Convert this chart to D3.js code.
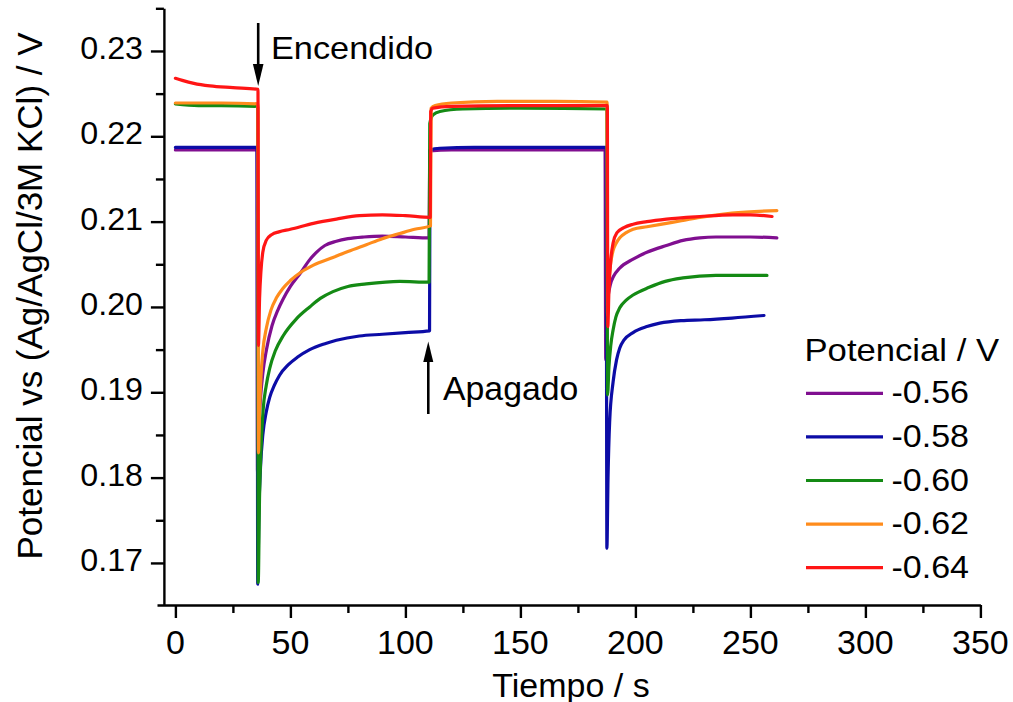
<!DOCTYPE html>
<html>
<head>
<meta charset="utf-8">
<script src="https://cdn.jsdelivr.net/npm/d3@7"></script>
<style>
  html, body { margin: 0; padding: 0; background: #ffffff; }
  svg { display: block; font-family: "Liberation Sans", Arial, sans-serif; }
</style>
</head>
<body>
<svg id="chart" width="1013" height="702"></svg>
<script>
// Open-circuit potential transients under light on/off, [time (s), potential (V)]
const seriesNames = ["-0.56", "-0.58", "-0.60", "-0.62", "-0.64"];
const seriesColors = ["#800f90", "#0c0ca6", "#148a14", "#ff8c1c", "#ff1515"];

const p056 = [
  [0, 0.2184], [35.5, 0.2184], [35.7, 0.1805], [36.3, 0.1860], [37, 0.1893], [38, 0.1922],
  [39.6, 0.1950], [42, 0.1978], [44.5, 0.1996], [46.8, 0.2009], [50, 0.2024], [54.7, 0.2041],
  [58, 0.2054], [61.3, 0.2064], [65, 0.2072], [70, 0.2077], [75, 0.2080], [82, 0.2082],
  [90, 0.2083], [100, 0.2082], [110.3, 0.2081], [110.6, 0.2183], [120, 0.2184], [186.8, 0.2184],
  [187.1, 0.1938], [187.7, 0.2000], [189, 0.2025], [190.5, 0.2036], [193, 0.2045], [199, 0.2056],
  [205, 0.2064], [213.5, 0.2072], [220.7, 0.2078], [228, 0.2081], [235, 0.2082], [250, 0.2082],
  [261.5, 0.2081]
];
const p058 = [
  [0, 0.2187], [35.5, 0.2187], [35.8, 0.1675], [36.3, 0.1760], [37, 0.1812], [38, 0.1850],
  [39.5, 0.1877], [41, 0.1894], [43, 0.1908], [45.3, 0.1920], [49, 0.1932], [53, 0.1941],
  [58.4, 0.1950], [65, 0.1957], [70, 0.1961], [80, 0.1966], [90, 0.1968], [100, 0.1970],
  [110.5, 0.1972], [110.7, 0.2184], [115, 0.2186], [130, 0.2187], [187.3, 0.2187],
  [187.6, 0.1717], [188.1, 0.1800], [188.8, 0.1865], [190.3, 0.1912], [191.8, 0.1938],
  [193.2, 0.1952], [195, 0.1961], [199, 0.1970], [205, 0.1977], [210.6, 0.1981],
  [220, 0.1984], [230, 0.1985], [242, 0.1987], [255.9, 0.1990]
];
const p060 = [
  [0, 0.2238], [10, 0.2236], [20, 0.2236], [35.8, 0.2235], [36.0, 0.1677], [36.6, 0.1780],
  [37.2, 0.1832], [38.1, 0.1878], [39.5, 0.1908], [41, 0.1928], [43.5, 0.1949], [46.8, 0.1966],
  [52.6, 0.1986], [58.4, 0.2000], [63, 0.2010], [68.5, 0.2018], [75, 0.2024], [83, 0.2027],
  [97.5, 0.2030], [110.3, 0.2029], [110.6, 0.2215], [112, 0.2225], [115, 0.2229], [125, 0.2232],
  [150, 0.2233], [187.6, 0.2232], [187.9, 0.1897], [188.5, 0.1930], [189.3, 0.1955],
  [190.3, 0.1973], [191.5, 0.1988], [193.2, 0.1999], [196, 0.2008], [199, 0.2014], [206, 0.2023],
  [213, 0.2030], [220.7, 0.2034], [235, 0.2037], [257.2, 0.2037]
];
const p062 = [
  [0, 0.2239], [20, 0.2239], [35.9, 0.2238], [36.1, 0.1829], [36.6, 0.1880], [37.2, 0.1918],
  [38, 0.1948], [39.6, 0.1976], [41.5, 0.1996], [44, 0.2011], [46.8, 0.2022], [50, 0.2031],
  [54.7, 0.2041], [60, 0.2049], [68.5, 0.2058], [75, 0.2065], [83, 0.2073], [90, 0.2080],
  [97.5, 0.2086], [104, 0.2091], [110.9, 0.2095], [111.2, 0.2233], [113, 0.2236], [120, 0.2239],
  [140, 0.2241], [165, 0.2241], [187.7, 0.2240], [187.9, 0.1990], [188.4, 0.2025],
  [189.2, 0.2050], [190.3, 0.2066], [191.7, 0.2075], [193.2, 0.2081], [196, 0.2087], [199, 0.2091],
  [205, 0.2094], [213.5, 0.2098], [220, 0.2101], [228, 0.2105], [242, 0.2110], [261.5, 0.2113]
];
const p064 = [
  [0, 0.2268], [3, 0.22655], [8, 0.2262], [15, 0.2259], [25, 0.2257], [35.9, 0.2255],
  [36.1, 0.1955], [36.6, 0.2010], [37.2, 0.2042], [38, 0.2064], [39.5, 0.2078], [42, 0.2085],
  [45, 0.2088], [50, 0.2091], [60, 0.2098], [70, 0.2103], [80, 0.2107], [90, 0.2108],
  [100, 0.2107], [110.8, 0.2105], [111.0, 0.2229], [112, 0.2233], [120, 0.2235], [150, 0.2236],
  [187.8, 0.2236], [188.0, 0.1977], [188.5, 0.2020], [189.3, 0.2055], [190.3, 0.2075],
  [192, 0.2087], [195, 0.2093], [199, 0.2097], [205, 0.2100], [213.5, 0.2103], [228, 0.2106],
  [242.4, 0.2108], [250, 0.2108], [259.4, 0.2106]
];
const seriesData = [p056, p058, p060, p062, p064];

const xTicks = [0, 50, 100, 150, 200, 250, 300, 350];
const xMinor = [25, 75, 125, 175, 225, 275, 325];
const yTicks = [0.17, 0.18, 0.19, 0.20, 0.21, 0.22, 0.23];
const yMinor = [0.175, 0.185, 0.195, 0.205, 0.215, 0.225, 0.235];

const xTitle = "Tiempo / s";
const yTitle = "Potencial vs (Ag/AgCl/3M KCl) / V";
const legendTitle = "Potencial / V";
const onLabel = "Encendido";
const offLabel = "Apagado";
const onTime = 36, offTime = 110.6;

const svg = d3.select("#chart");
const x = d3.scaleLinear().domain([-8, 350]).range([157, 980.4]);
const y = d3.scaleLinear().domain([0.165, 0.235]).range([605.6, 8.3]);
const axisW = 2.4;

// horizontally scaled text helper
function label(g, txt, px, py, size, sx, anchor) {
  return g.append("text")
    .attr("transform", `translate(${px},${py}) scale(${sx},1)`)
    .attr("font-size", size)
    .attr("text-anchor", anchor)
    .attr("fill", "#000")
    .text(txt);
}

// series
const line = d3.line().x(d => x(d[0])).y(d => y(d[1])).curve(d3.curveMonotoneX);
const gLines = svg.append("g");
seriesData.forEach((s, i) => {
  gLines.append("path")
    .datum(s)
    .attr("d", line)
    .attr("fill", "none")
    .attr("stroke", seriesColors[i])
    .attr("stroke-width", 3.2)
    .attr("stroke-linejoin", "round")
    .attr("stroke-linecap", "round");
});

// axes
const yAxisX = x(-5);
const xAxisY = 605;
function styleAxis(g) {
  g.selectAll("path, line").attr("stroke", "#000").attr("stroke-width", axisW);
  g.selectAll("text").remove();
}
svg.append("g").attr("transform", `translate(0,${xAxisY})`)
  .call(d3.axisBottom(x).tickValues(xTicks).tickSize(13).tickSizeOuter(0).tickFormat(""))
  .call(styleAxis);
svg.append("g").attr("transform", `translate(0,${xAxisY})`)
  .call(d3.axisBottom(x).tickValues(xMinor).tickSize(8).tickSizeOuter(0).tickFormat(""))
  .call(styleAxis).select(".domain").remove();
svg.append("g").attr("transform", `translate(${yAxisX},0)`)
  .call(d3.axisLeft(y).tickValues(yTicks).tickSize(13).tickSizeOuter(0).tickFormat(""))
  .call(styleAxis);
svg.append("g").attr("transform", `translate(${yAxisX},0)`)
  .call(d3.axisLeft(y).tickValues(yMinor).tickSize(8).tickSizeOuter(0).tickFormat(""))
  .call(styleAxis).select(".domain").remove();

// tick labels
const gT = svg.append("g");
yTicks.forEach(v => label(gT, d3.format(".2f")(v), 143, y(v) + 8, 31, 1.04, "end"));
xTicks.forEach(v => label(gT, String(v), x(v), 654, 34, 1.0, "middle"));

// axis titles
label(gT, xTitle, 571, 696.5, 33, 1.03, "middle");
gT.append("text")
  .attr("transform", "translate(42,296) rotate(-90)")
  .attr("font-size", 35)
  .attr("text-anchor", "middle")
  .attr("fill", "#000")
  .text(yTitle);

// light on / off markers
const gA = svg.append("g");
const onX = x(onTime);
gA.append("line").attr("x1", onX).attr("x2", onX).attr("y1", 23).attr("y2", 68)
  .attr("stroke", "#000").attr("stroke-width", 2.6);
gA.append("path").attr("d", `M${onX - 5.3},64 L${onX + 5.3},64 L${onX},86 Z`).attr("fill", "#000");
label(gA, onLabel, 271, 59.3, 31.6, 1.085, "start");

const offX = x(offTime) - 1.5;
gA.append("line").attr("x1", offX).attr("x2", offX).attr("y1", 414).attr("y2", 358)
  .attr("stroke", "#000").attr("stroke-width", 2.6);
gA.append("path").attr("d", `M${offX - 5},362 L${offX + 5},362 L${offX},341.5 Z`).attr("fill", "#000");
label(gA, offLabel, 443, 400, 33.5, 1.01, "start");

// legend
const gL = svg.append("g");
label(gL, legendTitle, 804.5, 360.7, 31.5, 1.1, "start");
seriesNames.forEach((n, i) => {
  const ly = 393.3 + i * 43.6;
  gL.append("line").attr("x1", 806).attr("x2", 883).attr("y1", ly).attr("y2", ly)
    .attr("stroke", seriesColors[i]).attr("stroke-width", 3.2);
  label(gL, n, 891.5, ly + 10, 31.5, 1.08, "start");
});
</script>
</body>
</html>
